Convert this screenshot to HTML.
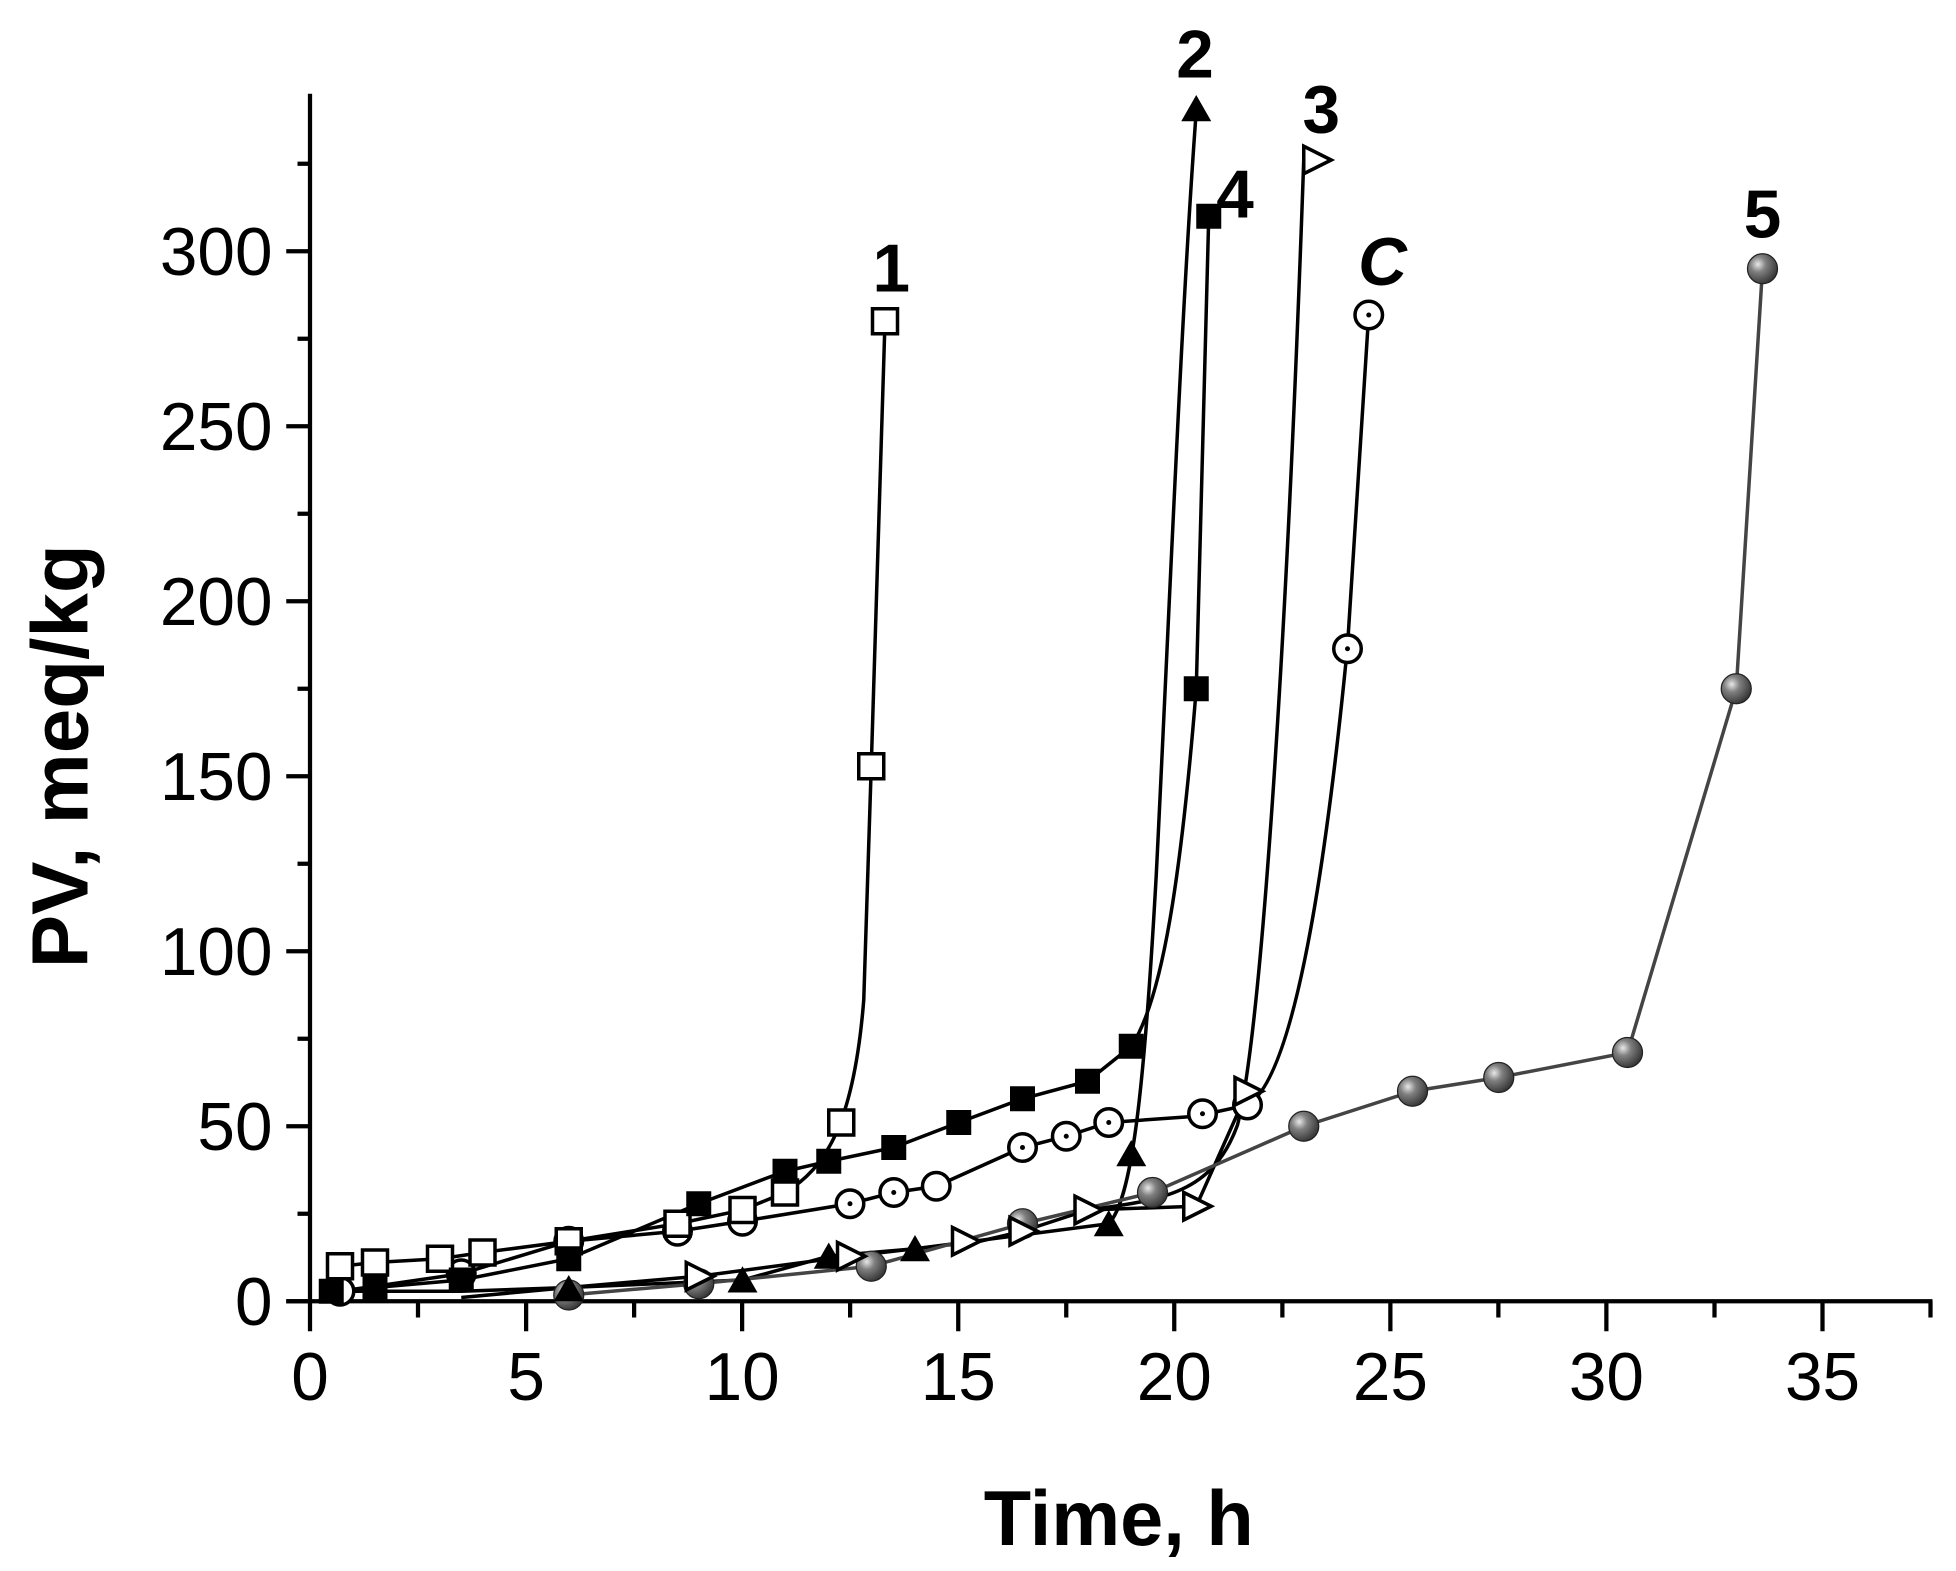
<!DOCTYPE html>
<html><head><meta charset="utf-8"><style>html,body{margin:0;padding:0;background:#fff}svg{display:block}</style></head>
<body>
<svg width="1956" height="1571" viewBox="0 0 1564.8 1256.8" xmlns="http://www.w3.org/2000/svg" font-family="Liberation Sans, Arial, sans-serif">
<defs>
<radialGradient id="sph" cx="0.35" cy="0.35" r="0.75">
<stop offset="0" stop-color="#e8e8e8"/><stop offset="0.35" stop-color="#808080"/><stop offset="1" stop-color="#2a2a2a"/>
</radialGradient>
</defs>
<rect width="1564.8" height="1256.8" fill="#fff"/>
<g stroke="#000" stroke-width="3.4" fill="none">
<line x1="248" y1="75" x2="248" y2="1042.5"/>
<line x1="229" y1="1041" x2="1546" y2="1041"/>
<path d="M229,1041H248M229,901H248M229,761H248M229,621H248M229,481H248M229,341H248M229,201H248"/>
<path d="M238,971H248M238,831H248M238,691H248M238,551H248M238,411H248M238,271H248M238,131H248"/>
<path d="M248,1041V1065M420.9,1041V1065M593.7,1041V1065M766.6,1041V1065M939.4,1041V1065M1112.3,1041V1065M1285.1,1041V1065M1458,1041V1065"/>
<path d="M334.4,1041V1054M507.3,1041V1054M680.1,1041V1054M853,1041V1054M1025.9,1041V1054M1198.7,1041V1054M1371.6,1041V1054M1544.4,1041V1054"/>
</g>
<g font-size="54" fill="#000" text-anchor="end">
<text x="218" y="1060">0</text><text x="218" y="920">50</text><text x="218" y="780">100</text>
<text x="218" y="640">150</text><text x="218" y="500">200</text><text x="218" y="360">250</text><text x="218" y="220">300</text>
</g>
<g font-size="54" fill="#000" text-anchor="middle">
<text x="248" y="1120">0</text><text x="420.9" y="1120">5</text><text x="593.7" y="1120">10</text><text x="766.6" y="1120">15</text>
<text x="939.4" y="1120">20</text><text x="1112.3" y="1120">25</text><text x="1285.1" y="1120">30</text><text x="1458" y="1120">35</text>
</g>
<text x="895" y="1236" font-size="62" font-weight="bold" text-anchor="middle">Time, h</text>
<text transform="translate(70,605) rotate(-90)" font-size="64" font-weight="bold" text-anchor="middle">PV, meq/kg</text>

<g fill="none" stroke="#000" stroke-width="2.8">
<path d="M272,1013 L300,1010 L352,1007 L386,1002 L455,993 L542,979 L594,968 L628,954 C660,935 683,900 691,800 L697,613 L708,257"/>
<path d="M265,1033 L300,1033 L369,1033 L455,1030 L594,1024 L663,1005 L732,999 L887,979 C905,960 915,880 925,700 C935,500 945,250 957,89"/>
<path d="M265,1033 L300,1030 L369,1024 L455,1007 L559,963 L628,937 L663,929 L715,918 L767,898 L818,879 L870,865 L905,837 C930,800 945,700 957,551 L967,173"/>
<path d="M369,1038 L455,1030 L559,1021 L680,1005 L784,993 L818,985 L870,968 C930,960 970,955 990,900 C1010,820 1030,500 1043,128"/>
<path d="M870,968 L957,965 M957,965 L998,873"/>
<path d="M272,1033 L369,1019 L455,993 L542,985 L594,977 L680,963 L715,954 L749,949 L818,918 L853,909 L887,898 L957,893 L998,884 C1040,860 1065,650 1078,517 L1095,251"/>
</g>
<path d="M455,1036 L559,1027 L697,1013 L818,979 L922,954 L1043,901 L1130,873 L1199,862 L1302,842 L1389,551 L1410,215" fill="none" stroke="#444" stroke-width="2.8"/>

<g fill="url(#sph)" stroke="#222" stroke-width="1">
<circle cx="455" cy="1036" r="12"/><circle cx="559" cy="1027" r="12"/><circle cx="697" cy="1013" r="12"/><circle cx="818" cy="979" r="12"/>
<circle cx="922" cy="954" r="12"/><circle cx="1043" cy="901" r="12"/><circle cx="1130" cy="873" r="12"/><circle cx="1199" cy="862" r="12"/>
<circle cx="1302" cy="842" r="12"/><circle cx="1389" cy="551" r="12"/><circle cx="1410" cy="215" r="12"/>
</g>
<g fill="#fff" stroke="#000" stroke-width="2.8">
<circle cx="272" cy="1033" r="11"/><circle cx="369" cy="1019" r="11"/><circle cx="455" cy="993" r="11"/><circle cx="542" cy="985" r="11"/>
<circle cx="594" cy="977" r="11"/><circle cx="680" cy="963" r="11"/><circle cx="715" cy="954" r="11"/><circle cx="749" cy="949" r="11"/>
<circle cx="818" cy="918" r="11"/><circle cx="853" cy="909" r="11"/><circle cx="887" cy="898" r="11"/><circle cx="962" cy="891" r="11"/>
<circle cx="998" cy="884" r="11"/><circle cx="1078" cy="519" r="11"/><circle cx="1095" cy="252" r="11"/>
</g>
<g fill="#000">
<circle cx="680" cy="963" r="2"/><circle cx="715" cy="954" r="2"/><circle cx="818" cy="918" r="2"/><circle cx="853" cy="909" r="2"/><circle cx="887" cy="898" r="2"/><circle cx="962" cy="891" r="2"/><circle cx="1078" cy="519" r="2"/><circle cx="1095" cy="252" r="2"/>
</g>
<g fill="#fff" stroke="#000" stroke-width="2.8">
<rect x="262" y="1003" width="20" height="20"/><rect x="290" y="1000" width="20" height="20"/><rect x="342" y="997" width="20" height="20"/>
<rect x="376" y="992" width="20" height="20"/><rect x="445" y="983" width="20" height="20"/><rect x="532" y="969" width="20" height="20"/>
<rect x="584" y="958" width="20" height="20"/><rect x="618" y="944" width="20" height="20"/><rect x="663" y="888" width="20" height="20"/>
<rect x="687" y="603" width="20" height="20"/><rect x="698" y="247" width="20" height="20"/>
</g>
<g fill="#000">
<rect x="255" y="1023" width="20" height="20"/><rect x="290" y="1020" width="20" height="20"/><rect x="359" y="1014" width="20" height="20"/>
<rect x="445" y="997" width="20" height="20"/><rect x="549" y="953" width="20" height="20"/><rect x="618" y="927" width="20" height="20"/>
<rect x="653" y="919" width="20" height="20"/><rect x="705" y="908" width="20" height="20"/><rect x="757" y="888" width="20" height="20"/>
<rect x="808" y="869" width="20" height="20"/><rect x="860" y="855" width="20" height="20"/><rect x="895" y="827" width="20" height="20"/>
<rect x="947" y="541" width="20" height="20"/><rect x="957" y="163" width="20" height="20"/>
</g>
<g fill="#000">
<path d="M455,1020 l12,21 h-24z"/><path d="M594,1013 l12,21 h-24z"/><path d="M663,994 l12,21 h-24z"/>
<path d="M732,988 l12,21 h-24z"/><path d="M887,968 l12,21 h-24z"/><path d="M905,912 l12,21 h-24z"/><path d="M957,76 l12,21 h-24z"/>
</g>
<g fill="#fff" stroke="#000" stroke-width="2.8">
<path d="M549,1010 l22,11 l-22,11z"/><path d="M670,994 l22,11 l-22,11z"/><path d="M762,982 l22,11 l-22,11z"/>
<path d="M808,974 l22,11 l-22,11z"/><path d="M860,957 l22,11 l-22,11z"/><path d="M947,954 l22,11 l-22,11z"/>
<path d="M988,862 l22,11 l-22,11z"/><path d="M1043,117 l22,11 l-22,11z"/>
</g>
<g font-size="54" font-weight="bold" fill="#000" text-anchor="middle">
<text x="713" y="233">1</text><text x="956" y="62">2</text><text x="1057" y="106">3</text>
<text x="988" y="174">4</text><text x="1106" y="228" font-style="italic">C</text><text x="1410" y="190">5</text>
</g>
</svg>
</body></html>
